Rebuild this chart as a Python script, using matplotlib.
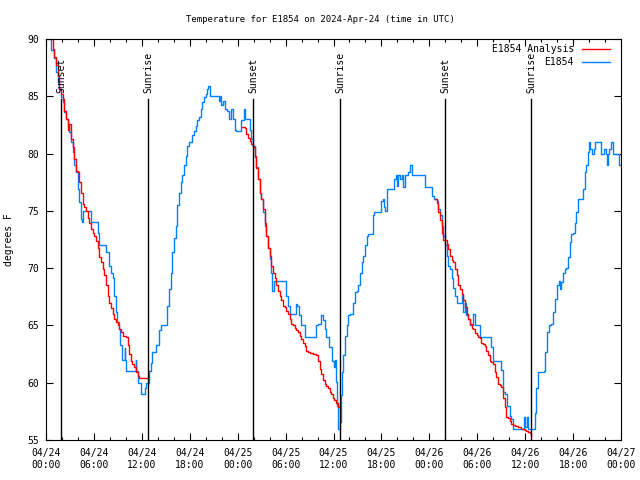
import matplotlib
matplotlib.use("Agg")
import matplotlib.pyplot as plt
import matplotlib.dates as mdates
import pandas as pd

plt.rcParams['font.family'] = ['DejaVu Sans Mono']

start = pd.Timestamp('2024-04-24 00:00')

# E1854 observed (hours since 04/24 00:00 UTC, degrees F)
obs_hours = [0.0, 0.42, 0.62, 1.04, 1.25, 1.46, 1.67, 1.88, 2.08, 2.29, 2.5, 2.71, 2.92, 3.12, 3.33,
             3.54, 3.75, 3.96, 4.17, 4.38, 4.5, 4.58, 5.62, 5.63, 6.25, 6.46, 6.67, 7.42, 7.5, 7.92,
             8.12, 8.33, 8.54, 8.75, 8.83, 9.08, 9.25, 9.5, 9.83, 9.92, 10.0, 11.17, 11.25, 11.33,
             11.58, 11.88, 12.29, 12.38, 12.5, 12.71, 12.92, 13.12, 13.33, 13.75, 14.17, 14.38, 15.0,
             15.21, 15.42, 15.62, 15.83, 16.04, 16.25, 16.46, 16.67, 16.88, 17.08, 17.29, 17.5, 17.71,
             17.92, 18.33, 18.5, 18.75, 18.92, 19.17, 19.46, 19.58, 19.75, 20.0, 20.17, 20.33, 20.5,
             21.54, 21.67, 21.75, 21.96, 22.17, 22.38, 22.67, 22.92, 23.21, 23.42, 23.62, 23.83, 24.25,
             24.46, 24.79, 24.92, 25.29, 25.5, 25.71, 25.92, 26.12, 26.33, 26.54, 26.75, 26.96, 27.17,
             27.38, 27.58, 27.79, 28.0, 28.21, 28.29, 28.5, 30.0, 30.08, 30.29, 30.5, 31.0, 31.25,
             31.42, 31.67, 31.96, 32.38, 33.5, 33.75, 34.04, 34.46, 34.67, 34.88, 35.08, 35.42, 35.83,
             36.12, 36.25, 36.33, 36.46, 36.62, 36.7, 36.83, 36.95, 37.12, 37.24, 37.45, 37.66, 37.87,
             38.08, 38.28, 38.49, 38.7, 38.91, 39.12, 39.32, 39.53, 39.74, 39.95, 40.16, 40.37, 40.78,
             40.91, 41.08, 41.74, 41.91, 42.16, 42.37, 42.45, 42.74, 43.49, 43.62, 43.78, 43.91, 44.12,
             44.32, 44.53, 44.74, 44.95, 45.37, 45.62, 45.78, 47.24, 47.45, 48.28, 48.37, 48.53, 48.91,
             49.12, 49.32, 49.53, 49.74, 49.95, 50.16, 50.37, 50.58, 50.78, 50.99, 51.2, 51.49, 51.82,
             52.03, 52.24, 52.45, 52.58, 52.87, 53.08, 53.28, 53.49, 53.7, 54.31, 55.56, 55.77, 55.98,
             56.81, 57.02, 57.22, 57.52, 57.77, 58.06, 58.27, 58.48, 59.72, 59.85, 60.02, 60.18, 60.35,
             60.98, 61.18, 61.39, 61.6, 62.35, 62.52, 62.73, 62.93, 63.18, 63.48, 63.77, 64.02, 64.18,
             64.31, 64.52, 64.72, 64.93, 65.14, 65.35, 65.56, 65.77, 65.98, 66.18, 66.39, 66.6, 67.02,
             67.22, 67.43, 67.64, 67.85, 67.98, 68.18, 68.35, 68.6, 68.77, 69.31, 69.52, 69.93, 70.14,
             70.27, 70.43, 70.56, 70.77, 70.98, 71.6, 71.73, 72.0]
obs_temp = [90.8, 90.0, 89.0, 88.3, 87.1, 86.2, 85.6, 84.9, 84.5, 83.6, 83.0, 82.4, 81.9, 81.0, 80.1,
            79.0, 78.4, 76.9, 75.8, 74.3, 74.0, 75.0, 75.0, 74.0, 74.0, 73.1, 72.0, 72.0, 71.4, 70.2,
            69.6, 69.1, 67.6, 66.2, 65.3, 64.7, 63.3, 62.0, 63.0, 62.0, 61.0, 61.0, 62.0, 61.0,
            60.0, 59.0, 59.0, 59.5, 60.0, 60.0, 61.0, 61.7, 62.7, 63.3, 64.6, 65.0, 65.0,
            66.7, 68.2, 69.6, 71.4, 72.6, 73.7, 75.5, 76.6, 77.5, 78.1, 79.0, 79.8, 80.7,
            81.0, 81.6, 82.0, 82.4, 82.9, 83.2, 83.9, 84.5, 84.9, 85.2, 85.6, 85.9, 85.0,
            85.0, 84.6, 85.0, 84.2, 84.6, 83.9, 83.7, 83.0, 83.9, 83.0, 82.1, 82.0, 82.0,
            82.9, 83.9, 83.0, 83.0, 82.1, 81.3, 80.7, 79.7, 78.8, 77.8, 76.6, 76.0, 74.9,
            73.7, 72.8, 71.8, 70.8, 69.6, 68.0, 68.9, 68.9, 67.6, 66.7, 66.0, 66.0, 66.9,
            66.7, 65.9, 65.0, 64.0, 64.0, 65.0, 65.1, 65.9, 65.5, 64.7, 64.0, 63.1, 61.9,
            61.4, 62.0, 60.1, 58.0, 56.0, 56.0, 56.6, 58.9, 60.9, 62.4, 64.1, 65.0, 65.9,
            66.0, 66.0, 67.0, 67.9, 68.0, 68.5, 69.6, 70.5, 71.1, 72.0, 72.8, 73.0, 73.0,
            74.6, 74.9, 74.9, 75.9, 76.0, 75.3, 75.0, 76.9, 76.9, 77.8, 78.1, 77.2, 78.1,
            77.8, 78.1, 77.1, 78.1, 78.4, 79.0, 78.1, 78.1, 77.1, 77.0, 76.3, 76.0, 75.9,
            75.2, 74.6, 73.7, 72.8, 72.0, 71.1, 70.2, 69.9, 69.1, 68.3, 67.6, 67.0, 67.0,
            67.7, 66.2, 67.0, 65.9, 65.6, 65.0, 65.0, 66.0, 65.0, 64.0, 64.0, 63.1, 61.9,
            61.9, 61.1, 59.2, 59.0, 58.0, 57.1, 56.8, 56.0, 56.0, 57.0, 56.1, 57.0, 56.0,
            56.0, 57.4, 59.5, 60.9, 61.0, 62.7, 64.4, 65.0, 65.1, 66.2, 67.3, 68.5, 68.9,
            68.2, 68.8, 69.6, 69.9, 70.0, 71.0, 72.3, 73.0, 73.1, 73.9, 74.9, 76.0, 76.0,
            76.9, 78.4, 79.0, 80.1, 81.0, 80.4, 80.0, 80.4, 81.0, 81.0, 80.0, 80.4, 80.0,
            79.0, 80.0, 80.4, 81.0, 80.0, 80.0, 79.0, 79.0]

# E1854 Analysis, one segment per night
ana1_hours = [0.62, 0.83, 1.04, 1.25, 1.46, 1.67, 1.88, 2.08, 2.29, 2.5, 2.71, 2.92, 3.12, 3.33, 3.54,
              3.75, 3.96, 4.17, 4.38, 4.58, 4.79, 5.0, 5.21, 5.42, 5.62, 5.83, 6.04, 6.25, 6.46, 6.67,
              6.88, 7.08, 7.29, 7.5, 7.71, 7.92, 8.12, 8.33, 8.54, 8.75, 8.96, 9.17, 9.38, 9.58, 10.0,
              10.21, 10.42, 10.62, 10.83, 11.04, 11.25, 11.46, 11.67, 12.92]
ana1_temp = [90.0, 89.1, 88.4, 87.7, 86.8, 85.6, 85.2, 84.8, 83.7, 83.0, 82.1, 82.6, 81.3, 80.6, 79.5,
             78.5, 78.4, 77.5, 76.6, 75.6, 75.3, 75.0, 74.4, 73.9, 73.4, 73.1, 72.8, 72.4, 71.8, 71.0,
             70.5, 69.9, 69.4, 68.5, 67.6, 67.0, 66.5, 66.0, 65.6, 65.3, 65.0, 64.7, 64.4, 64.1, 64.0,
             63.3, 62.5, 61.9, 61.6, 61.4, 60.9, 60.6, 60.4, 60.4]
ana2_hours = [24.58, 24.88, 25.08, 25.29, 25.5, 25.71, 25.92, 26.12, 26.33, 26.54, 26.75, 26.96, 27.17,
              27.38, 27.58, 27.79, 28.0, 28.21, 28.42, 28.62, 28.83, 29.04, 29.25, 29.46, 29.67, 29.88,
              30.08, 30.29, 30.5, 30.71, 30.92, 31.12, 31.33, 31.54, 31.75, 31.96, 32.17, 32.38, 32.58,
              32.79, 33.0, 33.42, 33.83, 34.04, 34.25, 34.46, 34.67, 34.88, 35.08, 35.29, 35.5, 35.71,
              35.92, 36.12, 36.33, 36.54, 36.8]
ana2_temp = [82.3, 82.2, 81.7, 81.4, 81.1, 80.8, 80.6, 79.8, 78.7, 77.8, 76.6, 76.0, 75.2,
             73.9, 72.8, 71.8, 71.1, 70.2, 69.6, 69.1, 68.5, 68.0, 67.6, 67.2, 66.7, 66.6,
             66.3, 66.0, 65.6, 65.1, 65.0, 64.8, 64.6, 64.4, 64.1, 63.8, 63.5, 63.2, 62.8,
             62.7, 62.6, 62.5, 62.4, 61.9, 61.2, 60.8, 60.2, 59.9, 59.7, 59.5, 59.2, 59.0,
             58.7, 58.5, 58.2, 57.9, 57.9]
ana3_hours = [48.7, 48.91, 49.12, 49.32, 49.53, 49.74, 49.95, 50.16, 50.37, 50.58, 50.78, 50.99, 51.2,
              51.41, 51.62, 51.82, 52.03, 52.24, 52.45, 52.66, 52.87, 53.08, 53.28, 53.49, 53.7, 53.91,
              54.12, 54.32, 54.53, 54.72, 54.93, 55.14, 55.35, 55.56, 55.77, 55.98, 56.18, 56.39, 56.6,
              56.81, 57.02, 57.22, 57.43, 57.64, 57.85, 58.06, 58.27, 58.48, 58.68, 59.1, 59.52, 59.93,
              60.14, 60.35, 60.56, 60.77]
ana3_temp = [76.0, 75.7, 74.9, 74.2, 73.1, 72.5, 72.5, 72.1, 71.7, 71.1, 70.7, 70.5, 69.9,
             69.4, 68.5, 68.2, 67.7, 67.2, 66.6, 66.0, 65.6, 65.1, 64.8, 64.7, 64.3, 64.2,
             64.0, 63.9, 63.5, 63.4, 63.2, 62.8, 62.4, 61.9, 61.8, 61.6, 60.9, 60.5, 59.9,
             59.8, 59.6, 58.7, 57.9, 57.0, 56.9, 56.7, 56.4, 56.3, 56.2, 56.1, 56.0, 55.9,
             55.8, 55.7, 55.6, 55.4]

# sun events, hours since start
sun_hours = [1.92, 12.78, 25.92, 36.81, 49.96, 60.73]
sun_labels = ['Sunset', 'Sunrise', 'Sunset', 'Sunrise', 'Sunset', 'Sunrise']


def to_time(hours):
    return start + pd.to_timedelta(hours, unit='h')


fig = plt.figure(figsize=(6.4, 4.8), dpi=100)
ax = fig.add_axes([46 / 640, 40 / 480, 575 / 640, 401 / 480])

blue = '#0080ff'
red = '#ff0000'

ax.plot(to_time(obs_hours), obs_temp, color=blue, lw=1.0, drawstyle='steps-post')
for hrs, tmp in [(ana1_hours, ana1_temp), (ana2_hours, ana2_temp), (ana3_hours, ana3_temp)]:
    ax.plot(to_time(hrs), tmp, color=red, lw=1.0, drawstyle='steps-post')

for h, lab in zip(sun_hours, sun_labels):
    t = to_time(h)
    ax.plot([t, t], [55, 84.8], color='black', lw=1.0)
    ax.text(t, 85.3, lab, rotation=90, ha='center', va='bottom', fontsize=7)

ax.set_xlim(to_time(0), to_time(72))
ax.set_ylim(55, 90)
ax.set_yticks([55, 60, 65, 70, 75, 80, 85, 90])

ax.xaxis.set_major_locator(mdates.HourLocator(byhour=[0, 6, 12, 18]))
ax.xaxis.set_minor_locator(mdates.HourLocator(byhour=range(0, 24, 2)))
ax.xaxis.set_major_formatter(mdates.DateFormatter('%m/%d\n%H:%M'))

ax.tick_params(which='both', direction='in', top=True, right=True, labelsize=7, width=0.8)
ax.tick_params(which='major', length=5)
ax.tick_params(which='minor', length=2.5)
ax.tick_params(axis='x', pad=6)
ax.tick_params(axis='y', pad=5)
for lbl in ax.get_xticklabels():
    lbl.set_linespacing(1.25)
for s in ax.spines.values():
    s.set_linewidth(0.8)

ax.set_ylabel('degrees F', fontsize=7)
ax.yaxis.set_label_coords(-0.056, 0.5)
fig.text(0.5, 1 - 20 / 480, 'Temperature for E1854 on 2024-Apr-24 (time in UTC)',
         ha='center', va='center', fontsize=6.5)

# legend, gnuplot style: right aligned text with sample line after it
for i, (lab, col) in enumerate([('E1854 Analysis', red), ('E1854', blue)]):
    y = 0.974 - i * 0.032
    ax.text(0.918, y, lab, transform=ax.transAxes, ha='right', va='center', fontsize=7)
    ax.plot([0.932, 0.981], [y, y], transform=ax.transAxes, color=col, lw=1.0)

fig.savefig('out.png', dpi=100)
